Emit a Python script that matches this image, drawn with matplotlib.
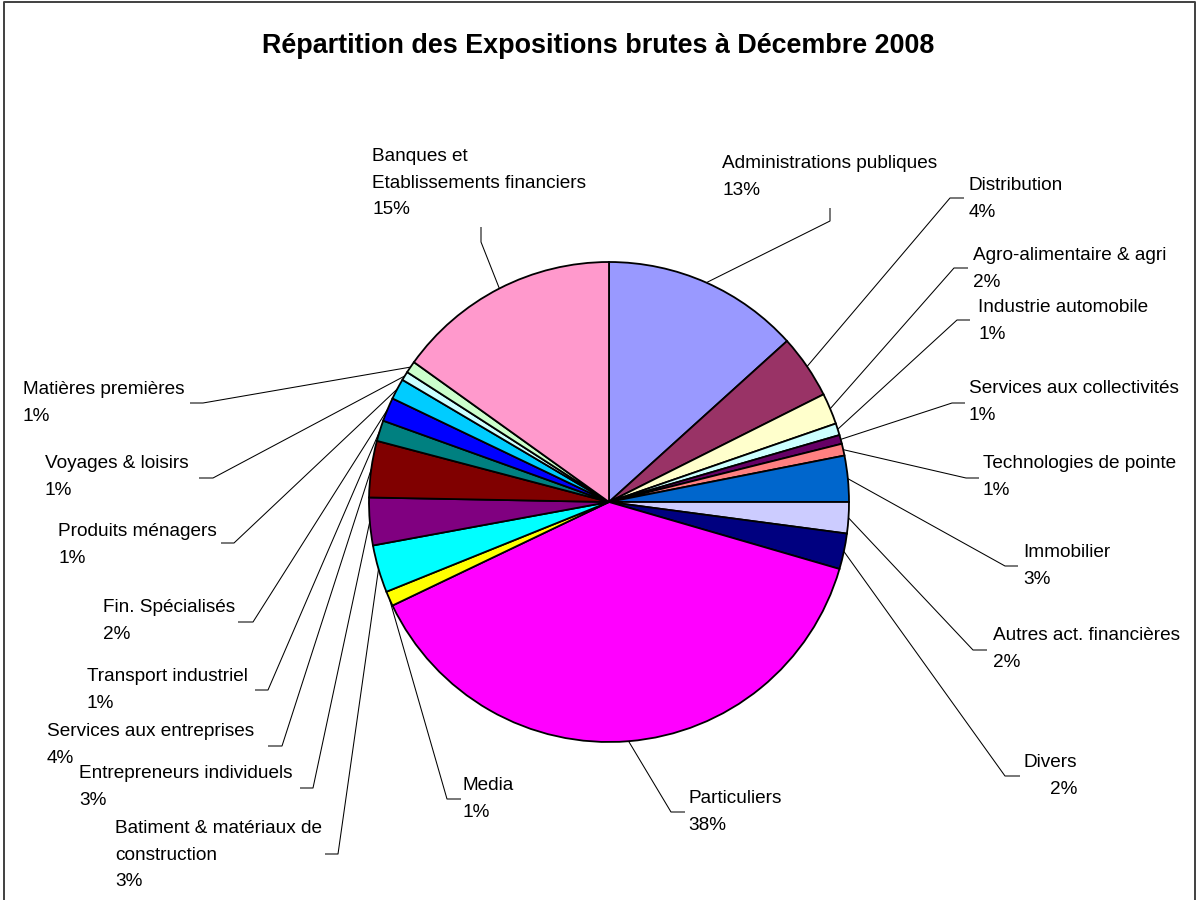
import matplotlib.pyplot as plt
import numpy as np

plt.rcParams['font.family'] = ['Liberation Sans', 'DejaVu Sans']

secteurs = ['Administrations publiques', 'Distribution', 'Agro-alimentaire & agri',
            'Industrie automobile', 'Services aux collectivités', 'Technologies de pointe',
            'Immobilier', 'Autres act. financières', 'Divers', 'Particuliers', 'Media',
            'Batiment & matériaux de\nconstruction', 'Entrepreneurs individuels',
            'Services aux entreprises', 'Transport industriel', 'Fin. Spécialisés',
            'Produits ménagers', 'Voyages & loisirs', 'Matières premières',
            'Banques et\nEtablissements financiers']
parts = [13.3, 4.3, 2.1, 0.8, 0.6, 0.8, 3.1, 2.1, 2.4, 38.4,
         1.0, 3.2, 3.2, 3.8, 1.4, 1.6, 1.4, 0.6, 0.8, 15.1]
couleurs = ['#9999FF', '#993366', '#FFFFCC', '#CCFFFF', '#660066', '#FF8080',
            '#0066CC', '#CCCCFF', '#000080', '#FF00FF', '#FFFF00', '#00FFFF',
            '#800080', '#800000', '#008080', '#0000FF', '#00CCFF', '#CCFFFF',
            '#CCFFCC', '#FF99CC']

# mise en page en pixels (origine en haut a gauche)
W, H = 1197, 900
centre = (609, 502)
rayon = 240
pos_texte = [(722, 168), (969, 190), (973, 260), (978, 312), (969, 393), (983, 468),
             (1023, 557), (993, 640), (1077, 767), (688, 803), (463, 790), (115, 833),
             (79, 778), (47, 736), (87, 681), (103, 612), (58, 536), (45, 468),
             (23, 394), (372, 161)]
alignement = ['left'] * 8 + ['right'] + ['left'] * 11
coude = [(830, 221), (950, 198), (954, 268), (957, 320), (952, 403), (966, 478),
         (1005, 566), (973, 650), (1005, 776), (671, 812), (447, 799), (338, 854),
         (313, 788), (282, 746), (268, 690), (253, 622), (234, 543), (213, 478),
         (203, 403), (481, 242)]
bout = [(830, 208), (964, 198), (968, 268), (970, 320), (965, 403), (979, 478),
        (1018, 566), (987, 650), (1020, 776), (685, 812), (461, 799), (325, 854),
        (300, 788), (268, 746), (255, 690), (238, 622), (221, 543), (199, 478),
        (190, 403), (481, 227)]
interligne = 26.7


def Y(y):
    return H - y


fig = plt.figure(figsize=(W / 100, H / 100), dpi=100)
ax = fig.add_axes([0, 0, 1, 1])

wedges, _ = ax.pie(parts, colors=couleurs, startangle=90, counterclock=False,
                   center=(centre[0], Y(centre[1])), radius=rayon,
                   wedgeprops=dict(edgecolor='black', linewidth=1.3))

total = sum(parts)
for i, w in enumerate(wedges):
    a = np.deg2rad((w.theta1 + w.theta2) / 2)
    x0 = centre[0] + rayon * np.cos(a)
    y0 = Y(centre[1]) + rayon * np.sin(a)
    ax.plot([x0, coude[i][0], bout[i][0]], [y0, Y(coude[i][1]), Y(bout[i][1])],
            color='black', lw=0.75, solid_capstyle='butt')
    lignes = secteurs[i].split('\n') + ['%.0f%%' % (parts[i] / total * 100)]
    tx, ty = pos_texte[i]
    for k, txt in enumerate(lignes):
        ax.text(tx, Y(ty + k * interligne), txt, fontsize=13.7, ha=alignement[i],
                va='baseline', color='black')

ax.text(598.5, Y(53), 'Répartition des Expositions brutes à Décembre 2008',
        ha='center', va='baseline', fontsize=19.4, fontweight='bold')

# cadre du graphique
ax.plot([4, 4, 1195, 1195], [Y(905), Y(2), Y(2), Y(905)], color='#404040', lw=1.4)

ax.set_xlim(0, W)
ax.set_ylim(0, H)
ax.set_aspect('equal')
ax.axis('off')

fig.savefig('out.png', dpi=100)
